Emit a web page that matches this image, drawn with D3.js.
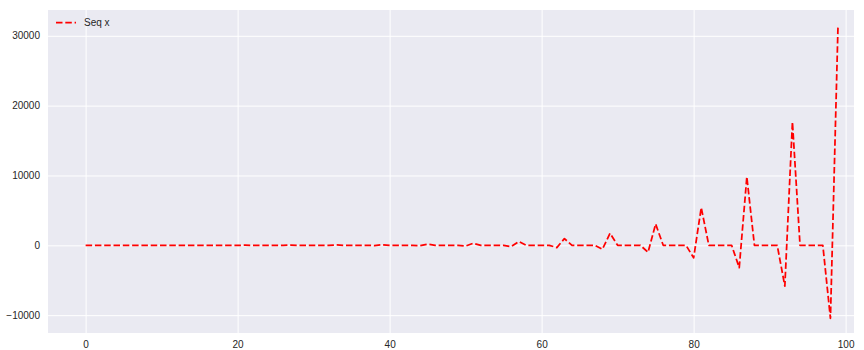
<!DOCTYPE html>
<html>
<head>
<meta charset="utf-8">
<script src="https://cdn.jsdelivr.net/npm/d3@7"></script>
<style>
  html, body { margin: 0; padding: 0; background: #fff; }
  svg { display: block; }
</style>
</head>
<body>
<svg id="chart" width="864" height="350"></svg>
<script>
// ---- Data ----
const seriesName = "Seq x";
const seqX = [
  0, 0, -1, 3, 0, 0, 0, 0, -2, 5,
  0, 0, 0, 0, -3, 9, 0, 0, 0, 0,
  -5, 16, 0, 0, 0, 0, -10, 29, 0, 0,
  0, 0, -17, 52, 0, 0, 0, 0, -31, 94,
  0, 0, 0, 0, -56, 168, 0, 0, 0, 0,
  -100, 300, 0, 0, 0, 0, -178, 537, 0, 0,
  0, 0, -320, 960, 0, 0, 0, 0, -560, 1720,
  0, 0, 0, 0, -1000, 3050, 0, 0, 0, 0,
  -1800, 5400, 0, 0, 0, 0, -3200, 9800, 0, 0,
  0, 0, -5850, 17650, 0, 0, 0, 0, -10450, 31590
];
const xTicks = [0, 20, 40, 60, 80, 100];
const yTicks = [-10000, 0, 10000, 20000, 30000];

// ---- Layout ----
const svg = d3.select("#chart");
const plot = { left: 48, right: 854, top: 10, bottom: 333 };

const xs = seqX.map((_, i) => i);
const xMin = d3.min(xs), xMax = d3.max(xs);
const x = d3.scaleLinear()
  .domain([xMin - 0.05 * (xMax - xMin), 101.1])
  .range([plot.left, plot.right]);

const yMin = d3.min(seqX), yMax = d3.max(seqX);
const yPad = 0.05 * (yMax - yMin);
const y = d3.scaleLinear()
  .domain([yMin - yPad, yMax + yPad])
  .range([plot.bottom, plot.top]);

// background
svg.append("rect")
  .attr("x", plot.left).attr("y", plot.top)
  .attr("width", plot.right - plot.left)
  .attr("height", plot.bottom - plot.top)
  .attr("fill", "#EAEAF2");

const fmt = d => d3.format("d")(d).replace("-", "\u2212");

// x axis (grid + labels)
const xAxis = d3.axisBottom(x).tickValues(xTicks).tickSize(-(plot.bottom - plot.top)).tickPadding(8).tickFormat(fmt);
const gx = svg.append("g").attr("transform", `translate(0,${plot.bottom})`).call(xAxis);
gx.select(".domain").remove();
gx.selectAll(".tick line").attr("stroke", "#fff").attr("stroke-width", 1);
gx.selectAll(".tick text").attr("fill", "#262626")
  .style("font-family", "'Liberation Sans', Arial, sans-serif").style("font-size", "10px");

// y axis
const yAxis = d3.axisLeft(y).tickValues(yTicks).tickSize(-(plot.right - plot.left)).tickPadding(8).tickFormat(fmt);
const gy = svg.append("g").attr("transform", `translate(${plot.left},0)`).call(yAxis);
gy.select(".domain").remove();
gy.selectAll(".tick line").attr("stroke", "#fff").attr("stroke-width", 1);
gy.selectAll(".tick text").attr("fill", "#262626")
  .style("font-family", "'Liberation Sans', Arial, sans-serif").style("font-size", "10px");

// line
const line = d3.line().x((d, i) => x(i)).y(d => y(d));
svg.append("path")
  .datum(seqX)
  .attr("d", line)
  .attr("fill", "none")
  .attr("stroke", "#ff0000")
  .attr("stroke-width", 1.75)
  .attr("stroke-dasharray", "6.5,2.8")
  .attr("stroke-linejoin", "round");

// legend
const lg = svg.append("g");
lg.append("line")
  .attr("x1", 56).attr("x2", 76).attr("y1", 22.5).attr("y2", 22.5)
  .attr("stroke", "#ff0000").attr("stroke-width", 1.75)
  .attr("stroke-dasharray", "6.5,2.8");
lg.append("text")
  .attr("x", 84).attr("y", 26)
  .attr("fill", "#262626")
  .style("font-family", "'Liberation Sans', Arial, sans-serif").style("font-size", "10px")
  .text(seriesName);
</script>
</body>
</html>
